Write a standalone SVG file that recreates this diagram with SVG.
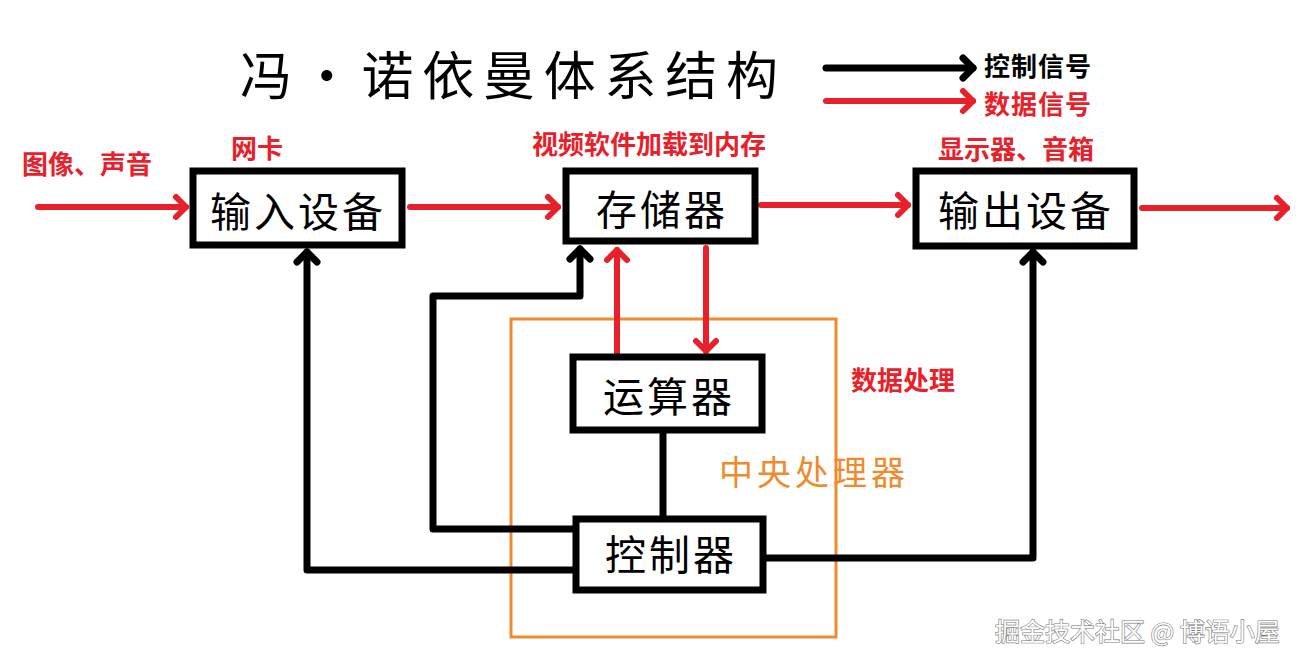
<svg xmlns="http://www.w3.org/2000/svg" width="1300" height="663" viewBox="0 0 1300 663">
<style>
.box{fill:#fff;stroke:#000;stroke-width:7}
.lbl{font-family:"Noto Sans CJK SC","Noto Sans",sans-serif;font-size:41px;fill:#000;text-anchor:middle;dominant-baseline:central}
.red{font-family:"Noto Sans CJK SC","Noto Sans",sans-serif;font-size:26px;font-weight:700;fill:#e8202a;dominant-baseline:central}
.leg{font-family:"Noto Sans CJK SC","Noto Sans",sans-serif;font-size:26px;font-weight:700;dominant-baseline:central;letter-spacing:1px}
.bk{fill:none;stroke:#000;stroke-width:7;stroke-linejoin:round;stroke-linecap:round}
.rd{fill:none;stroke:#e8202a;stroke-width:6;stroke-linecap:round}
</style>
<defs>
<marker id="ab" markerUnits="userSpaceOnUse" markerWidth="40" markerHeight="40" viewBox="-20 -20 40 40" refX="0" refY="0" orient="auto" overflow="visible">
<path d="M-10,-10 L0,0 L-10,10" fill="none" stroke="#000" stroke-width="7" stroke-linecap="round" stroke-linejoin="round"/>
</marker>
<marker id="ar" markerUnits="userSpaceOnUse" markerWidth="40" markerHeight="40" viewBox="-20 -20 40 40" refX="0" refY="0" orient="auto" overflow="visible">
<path d="M-10,-10 L0,0 L-10,10" fill="none" stroke="#e8202a" stroke-width="6" stroke-linecap="round" stroke-linejoin="round"/>
</marker>
</defs>
<rect width="1300" height="663" fill="#fff"/>

<g id="title">
<text x="240" y="95" textLength="538" lengthAdjust="spacing" style="font-family:'Noto Sans CJK SC',sans-serif;font-size:52px;fill:#000">冯·诺依曼体系结构</text>
</g>

<g id="legend">
<line x1="826" y1="68" x2="973" y2="68" class="bk" marker-end="url(#ab)"/>
<line x1="826" y1="101" x2="973" y2="101" class="rd" marker-end="url(#ar)"/>
<text x="984" y="64" class="leg" fill="#000">控制信号</text>
<text x="984" y="102" class="leg" fill="#e8202a">数据信号</text>
</g>

<g id="labels">
<text x="22" y="162" class="red">图像、声音</text>
<text x="231" y="146" class="red">网卡</text>
<text x="532" y="142" class="red">视频软件加载到内存</text>
<text x="938" y="147" class="red">显示器、音箱</text>
<text x="851" y="378" class="red">数据处理</text>
</g>

<g id="cpu">
<rect x="511" y="319" width="325" height="318" fill="none" stroke="#f08a2c" stroke-width="3"/>
<text x="719" y="470" style="font-family:'Noto Sans CJK SC',sans-serif;font-size:34px;fill:#f08a2c;dominant-baseline:central;letter-spacing:4px">中央处理器</text>
</g>

<g id="connectors">
<line x1="38" y1="207" x2="186" y2="207" class="rd" marker-end="url(#ar)"/>
<line x1="410" y1="207" x2="558" y2="207" class="rd" marker-end="url(#ar)"/>
<line x1="761" y1="205" x2="908" y2="205" class="rd" marker-end="url(#ar)"/>
<line x1="1142" y1="208" x2="1287" y2="208" class="rd" marker-end="url(#ar)"/>
<line x1="617" y1="354" x2="617" y2="250" class="rd" marker-end="url(#ar)"/>
<line x1="706" y1="248" x2="706" y2="351" class="rd" marker-end="url(#ar)"/>
<polyline points="573,570 307,570 307,252" class="bk" marker-end="url(#ab)"/>
<polyline points="573,529 433,529 433,296 580,296 580,249" class="bk" marker-end="url(#ab)"/>
<line x1="663" y1="432" x2="663" y2="516" class="bk"/>
<polyline points="766,558 1033,558 1033,252" class="bk" marker-end="url(#ab)"/>
</g>

<g id="input">
<rect x="193" y="171" width="209" height="74" class="box"/>
<text x="298" y="209" class="lbl" style="letter-spacing:3px">输入设备</text>
</g>
<g id="memory">
<rect x="566" y="171" width="189" height="70" class="box"/>
<text x="662" y="207" class="lbl" style="letter-spacing:3px">存储器</text>
</g>
<g id="output">
<rect x="916" y="171" width="218" height="75" class="box"/>
<text x="1026" y="208" class="lbl" style="letter-spacing:3px">输出设备</text>
</g>
<g id="alu">
<rect x="573" y="357" width="189" height="73" class="box"/>
<text x="669" y="394" class="lbl" style="letter-spacing:3px">运算器</text>
</g>
<g id="control">
<rect x="576" y="519" width="187" height="71" class="box"/>
<text x="671" y="552" class="lbl" style="letter-spacing:3px">控制器</text>
</g>

<g id="watermark">
<text x="995" y="630" style="font-family:'Noto Sans CJK SC',sans-serif;font-size:25px;fill:#fff;stroke:#777;stroke-width:1.2px;paint-order:stroke;dominant-baseline:central">掘金技术社区 @ 博语小屋</text>
</g>
</svg>
